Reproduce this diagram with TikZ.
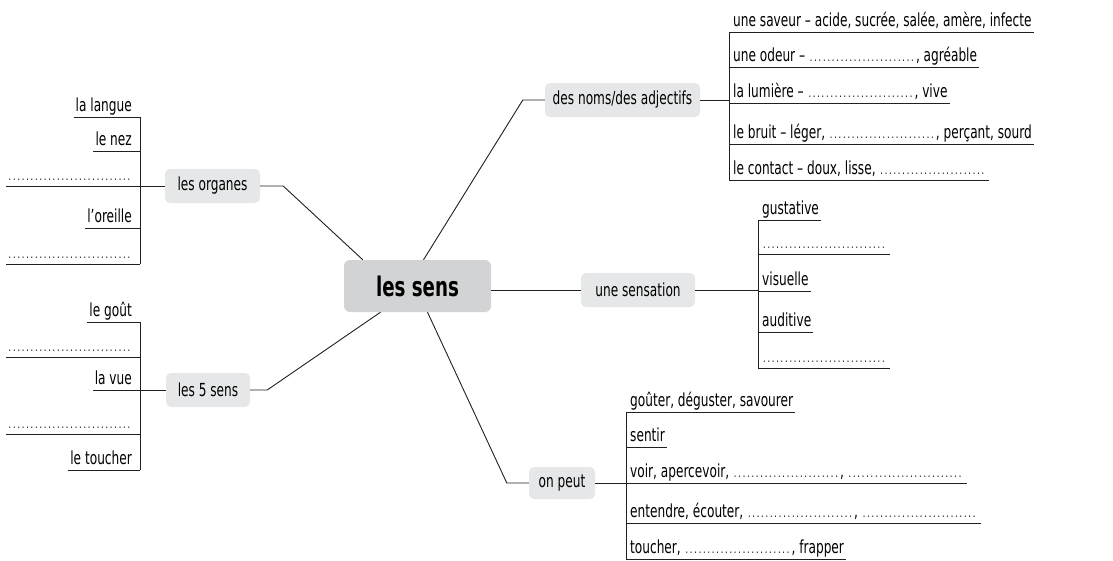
\documentclass[tikz,border=0pt]{standalone}
\usepackage{fontspec}
\setmainfont{DejaVu Sans Condensed}[FakeStretch=0.75]
\usepackage{xcolor}
\usetikzlibrary{positioning}
\definecolor{sensgray1}{HTML}{231F20}
\definecolor{sensgray2}{HTML}{E6E7E8}
\definecolor{sensgray3}{HTML}{D1D3D4}
\newcommand{\pointilles}[1][107pt]{\makebox[#1]{\leaders\hbox to 4.4pt{\hss\fontsize{12}{12}\selectfont.\hss}\hfill}}

\begin{document}
\begin{tikzpicture}[x=1pt, y=-1pt, font=\fontsize{18}{20}\selectfont]

\useasboundingbox (0,0) rectangle (1113,560);

% Styles
\tikzset{
  lien/.style={draw=sensgray1, line width=0.9pt},
  theme/.style={fill=sensgray2, rounded corners=5pt, minimum height=34pt, inner sep=0pt},
  centre/.style={fill=sensgray3, rounded corners=6pt, minimum width=147pt, minimum height=52pt, inner sep=0pt, font=\fontsize{27}{29}\selectfont\bfseries},
  itemG/.style={anchor=base east, inner xsep=2pt, inner ysep=0pt},
  itemD/.style={anchor=base west, inner xsep=2pt, inner ysep=0pt}
}

% Nodes
\node[centre] (sens) at (417.5,286) {les sens};
\node[theme, minimum width=95pt] (organes) at (212.5,186) {les organes};
\node[theme, minimum width=84pt] (cinq) at (208,390) {les 5 sens};
\node[theme, minimum width=155pt] (noms) at (622.5,100) {des noms/des adjectifs};
\node[theme, minimum width=114pt] (sensation) at (638,290) {une sensation};
\node[theme, minimum width=66pt, minimum height=32pt] (peut) at (562,483) {on peut};

% Branches from the centre
\draw[lien] (organes.east) -- ([xshift=23pt]organes.east) -- ([xshift=19pt]sens.north west);
\draw[lien] (cinq.east) -- ([xshift=17pt]cinq.east) -- ([xshift=-37pt]sens.south);
\draw[lien] ([xshift=6pt]sens.north) -- ([xshift=-22pt]noms.west) -- (noms.west);
\draw[lien] (sensation.west -| sens.east) -- (sensation.west);
\draw[lien] ([xshift=10pt]sens.south) -- ([xshift=-22pt]peut.west) -- (peut.west);

% Left lists: les organes
\foreach \y/\t [count=\i] in {117/la langue, 151/le nez, 186/\pointilles[124pt], 228/l'oreille, 264/\pointilles[124pt]} {
    \coordinate (org-l\i) at (140,\y);
    \node[itemG] (org-\i) at ([shift={(-6,-6)}]org-l\i) {\t};
    \draw[lien] (org-l\i) -- (org-l\i -| org-\i.west);
}
\draw[lien] (org-l1) -- (org-l5);
\draw[lien] (organes.west) -- (organes.west -| org-l1);

% Left lists: les 5 sens
\foreach \y/\t [count=\i] in {322/le goût, 357/\pointilles[124pt], 390/la vue, 434/\pointilles[124pt], 470/le toucher} {
    \coordinate (cinq-l\i) at (140,\y);
    \node[itemG] (cinq-\i) at ([shift={(-6,-6)}]cinq-l\i) {\t};
    \draw[lien] (cinq-l\i) -- (cinq-l\i -| cinq-\i.west);
}
\draw[lien] (cinq-l1) -- (cinq-l5);
\draw[lien] (cinq.west) -- (cinq.west -| cinq-l1);

% Right lists: des noms/des adjectifs
\foreach \y/\t [count=\i] in {32/{une saveur – acide, sucrée, salée, amère, infecte},
    67/{une odeur – \pointilles, agréable},
    103/{la lumière – \pointilles, vive},
    144/{le bruit – léger, \pointilles, perçant, sourd},
    180/{le contact – doux, lisse, \pointilles}} {
    \coordinate (nom-l\i) at (729,\y);
    \node[itemD] (nom-\i) at ([shift={(2,-6)}]nom-l\i) {\t};
    \draw[lien] (nom-l\i) -- (nom-l\i -| nom-\i.east);
}
\draw[lien] (nom-l1) -- (nom-l5);
\draw[lien] (noms.east) -- (noms.east -| nom-l1);

% Right lists: une sensation
\foreach \y/\t [count=\i] in {220/gustative, 254/\pointilles[126pt], 291/visuelle, 332/auditive, 368/\pointilles[126pt]} {
    \coordinate (sen-l\i) at (758,\y);
    \node[itemD] (sen-\i) at ([shift={(2,-6)}]sen-l\i) {\t};
    \draw[lien] (sen-l\i) -- (sen-l\i -| sen-\i.east);
}
\draw[lien] (sen-l1) -- (sen-l5);
\draw[lien] (sensation.east) -- (sensation.east -| sen-l1);

% Right lists: on peut
\foreach \y/\t [count=\i] in {412/{goûter, déguster, savourer},
    447/sentir,
    483/{voir, apercevoir, \pointilles, \pointilles[117pt]},
    523/{entendre, écouter, \pointilles, \pointilles[117pt]},
    559/{toucher, \pointilles, frapper}} {
    \coordinate (peut-l\i) at (626,\y);
    \node[itemD] (peut-\i) at ([shift={(2,-6)}]peut-l\i) {\t};
    \draw[lien] (peut-l\i) -- (peut-l\i -| peut-\i.east);
}
\draw[lien] (peut-l1) -- (peut-l5);
\draw[lien] (peut.east) -- (peut.east -| peut-l1);

\end{tikzpicture}
\end{document}
